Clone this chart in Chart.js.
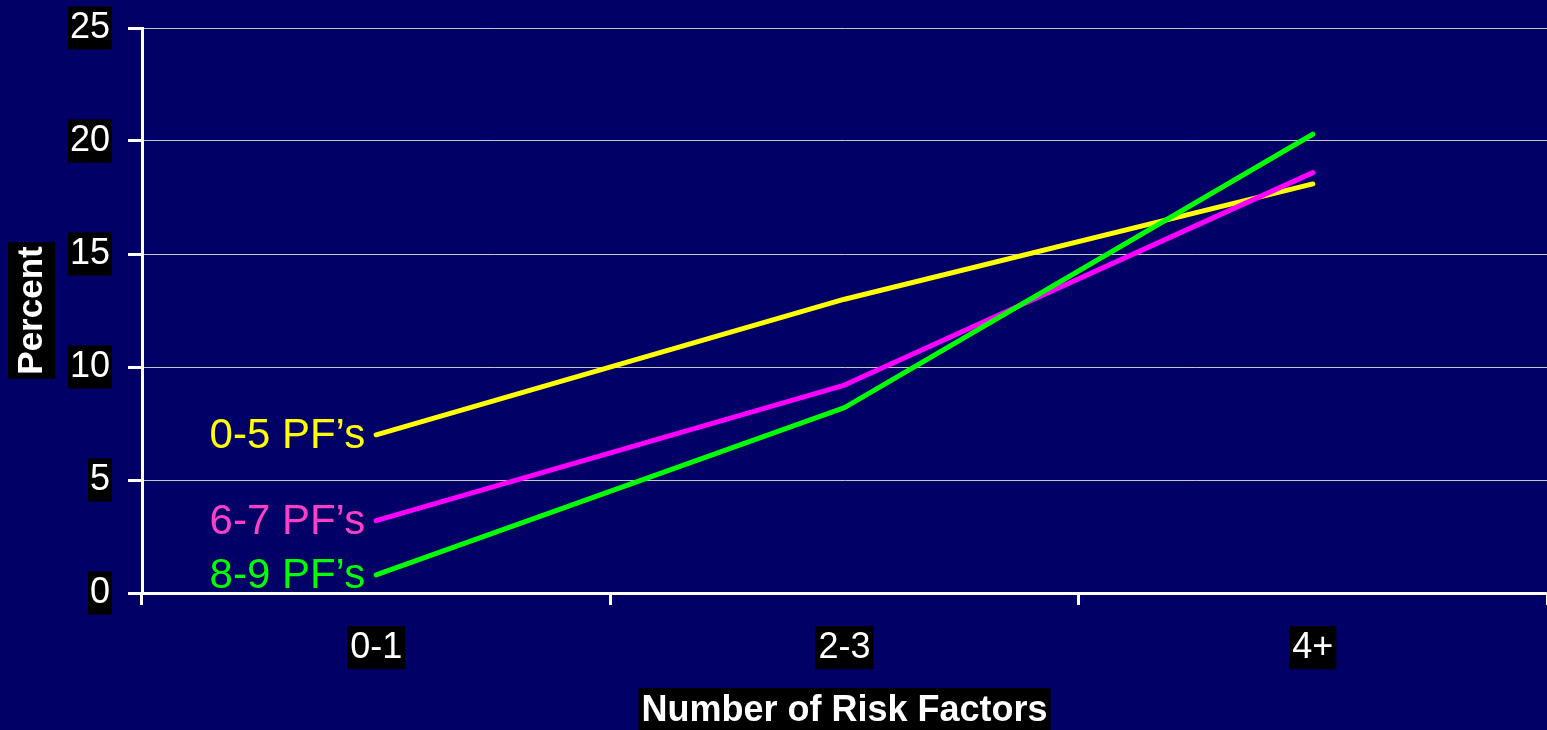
<!DOCTYPE html>
<html>
<head>
<meta charset="utf-8">
<title>Percent by Number of Risk Factors</title>
<script src="https://cdn.jsdelivr.net/npm/chart.js@4/dist/chart.umd.min.js"></script>
<style>
  html, body { margin: 0; padding: 0; background: #000066; }
  #wrap { width: 1547px; height: 730px; position: relative; }
</style>
</head>
<body>
<div id="wrap"><canvas id="chart" width="1547" height="730"></canvas></div>
<script>
// Categories on the x axis
const categories = ['0-1', '2-3', '4+'];

// Series names and values (percent)
const seriesNames = ['0-5 PF\u2019s', '6-7 PF\u2019s', '8-9 PF\u2019s'];
const pf05 = [7.0, 13.0, 18.1];
const pf67 = [3.2, 9.2, 18.6];
const pf89 = [0.8, 8.2, 20.3];

// Y axis range and step
const yMin = 0;
const yMax = 25;
const yStep = 5;

// Axis titles
const xTitle = 'Number of Risk Factors';
const yTitle = 'Percent';

const FONT = "'Liberation Sans', Arial, Helvetica, sans-serif";
const BG = '#000066';
const lineColors = ['#FFFF00', '#FF00FF', '#00FF00'];
const labelColors = ['#FFFF00', '#FF3FC8', '#00FF00'];

// Fills the page background navy
const backgroundPlugin = {
  id: 'navyBackground',
  beforeDraw(chart) {
    const ctx = chart.ctx;
    ctx.save();
    ctx.fillStyle = BG;
    ctx.fillRect(0, 0, chart.width, chart.height);
    ctx.restore();
  }
};

// Axis titles on black boxes, and series names beside the first point of each line
const annotatePlugin = {
  id: 'annotate',
  afterDraw(chart) {
    const ctx = chart.ctx;
    const area = chart.chartArea;
    ctx.save();

    // y axis title (rotated)
    ctx.font = 'bold 35px ' + FONT;
    let w = ctx.measureText(yTitle).width;
    const yCx = 31, yCy = (area.top + area.bottom) / 2;
    ctx.translate(yCx, yCy);
    ctx.rotate(-Math.PI / 2);
    ctx.fillStyle = '#000000';
    ctx.fillRect(-w / 2 - 4, -23, w + 8, 47);
    ctx.fillStyle = '#FFFFFF';
    ctx.textAlign = 'center';
    ctx.textBaseline = 'middle';
    ctx.fillText(yTitle, 0, 1);
    ctx.setTransform(1, 0, 0, 1, 0, 0);

    // x axis title
    ctx.font = 'bold 36px ' + FONT;
    w = ctx.measureText(xTitle).width;
    const xCx = (area.left + area.right) / 2, xCy = 710;
    ctx.fillStyle = '#000000';
    ctx.fillRect(xCx - w / 2 - 3, xCy - 22, w + 6, 44);
    ctx.fillStyle = '#FFFFFF';
    ctx.textAlign = 'center';
    ctx.textBaseline = 'middle';
    ctx.fillText(xTitle, xCx, xCy + 1);

    // series names at the left end of each line
    ctx.font = '42px ' + FONT;
    ctx.textAlign = 'right';
    ctx.textBaseline = 'middle';
    chart.data.datasets.forEach((ds, i) => {
      const pt = chart.getDatasetMeta(i).data[0];
      ctx.fillStyle = labelColors[i];
      ctx.fillText(seriesNames[i], pt.x - 11, pt.y + 2);
    });
    ctx.restore();
  }
};

const datasets = [pf05, pf67, pf89].map((vals, i) => ({
  label: seriesNames[i],
  data: vals,
  borderColor: lineColors[i],
  backgroundColor: lineColors[i],
  borderWidth: 5,
  borderCapStyle: 'round',
  borderJoinStyle: 'round',
  pointRadius: 0,
  pointHoverRadius: 0,
  tension: 0,
  fill: false,
  order: 3 - i
}));

new Chart(document.getElementById('chart'), {
  type: 'line',
  data: { labels: categories, datasets },
  options: {
    responsive: false,
    animation: false,
    devicePixelRatio: 1,
    layout: { padding: { top: 28, right: 0, bottom: 0, left: 0 } },
    plugins: {
      legend: { display: false },
      tooltip: { enabled: false },
      title: { display: false }
    },
    scales: {
      x: {
        type: 'category',
        offset: true,
        afterFit(scale) {
          scale.height = 137;
          scale.paddingLeft = 0;
          scale.paddingRight = 0;
        },
        border: { display: true, color: '#FFFFFF', width: 3 },
        grid: {
          offset: true,
          drawOnChartArea: false,
          drawTicks: true,
          tickLength: 12,
          tickWidth: 3,
          tickColor: '#FFFFFF',
          color: '#FFFFFF'
        },
        ticks: {
          color: '#FFFFFF',
          font: { family: FONT, size: 36, lineHeight: 1.2 },
          padding: 21,
          showLabelBackdrop: true,
          backdropColor: '#000000',
          backdropPadding: { x: 3, y: 0 },
          maxRotation: 0
        }
      },
      y: {
        min: yMin,
        max: yMax,
        afterFit(scale) {
          scale.width = 142;
          scale.paddingTop = 0;
          scale.paddingBottom = 0;
        },
        border: { display: true, color: '#FFFFFF', width: 3 },
        grid: {
          color: '#C8C8C8',
          lineWidth: 1,
          drawTicks: true,
          tickLength: 14,
          tickWidth: 3,
          tickColor: '#FFFFFF'
        },
        ticks: {
          stepSize: yStep,
          color: '#FFFFFF',
          font: { family: FONT, size: 36, lineHeight: 1.2 },
          padding: 18,
          showLabelBackdrop: true,
          backdropColor: '#000000',
          backdropPadding: { x: 2, y: 0 }
        }
      }
    }
  },
  plugins: [backgroundPlugin, annotatePlugin]
});
</script>
</body>
</html>
